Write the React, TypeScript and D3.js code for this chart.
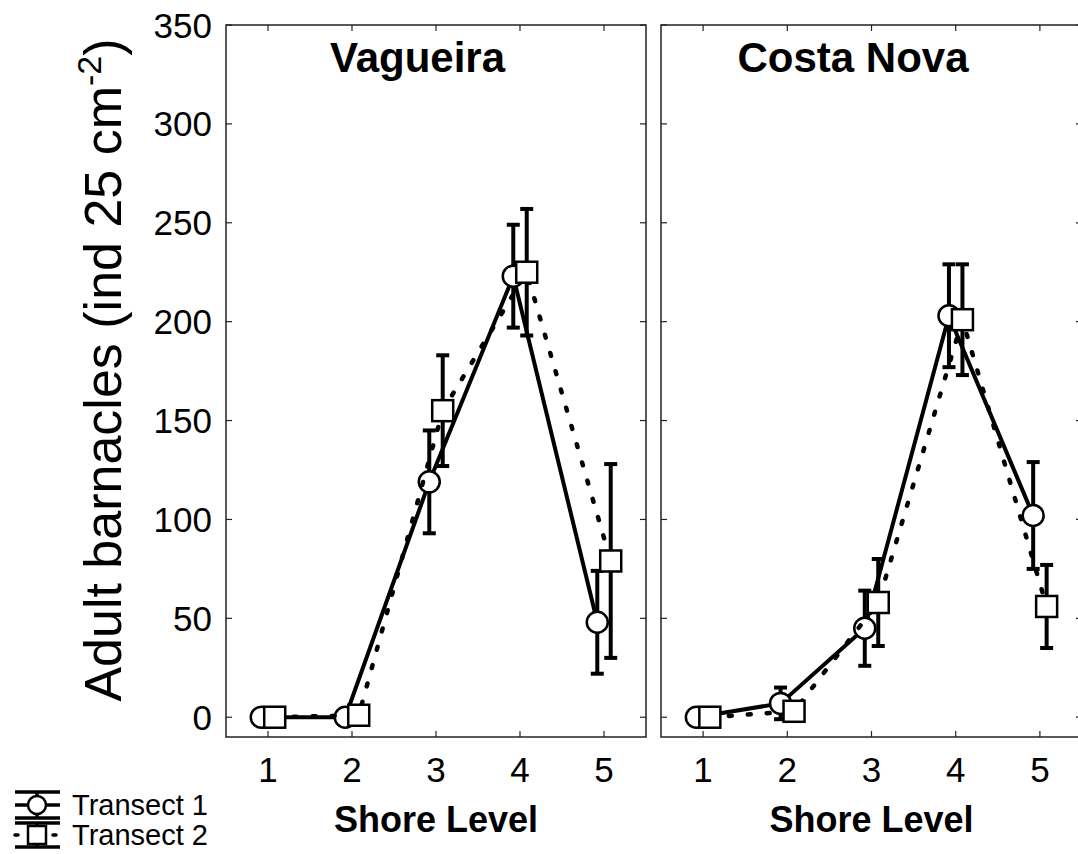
import React from 'react'
import * as d3 from 'd3'

const shoreLevels = [1, 2, 3, 4, 5]
const yTicks = [0, 50, 100, 150, 200, 250, 300, 350]

const vagueiraT1 = [0, 0, 119, 223, 48]
const vagueiraT1Err = [0, 0, 26, 26, 26]
const vagueiraT2 = [0, 1, 155, 225, 79]
const vagueiraT2Err = [0, 1, 28, 32, 49]

const costaNovaT1 = [0, 7, 45, 203, 102]
const costaNovaT1Err = [0, 8, 19, 26, 27]
const costaNovaT2 = [0, 3, 58, 201, 56]
const costaNovaT2Err = [0, 4, 22, 28, 21]

const panelTitles = ['Vagueira', 'Costa Nova']
const seriesNames = ['Transect 1', 'Transect 2']

const FONT = '"Liberation Sans", Arial, Helvetica, sans-serif'
const W = 1078
const H = 854
const top = 25
const bottom = 737

const yScale = d3.scaleLinear().domain([-10, 350]).range([bottom, top])

type Series = { values: number[]; err: number[]; shape: 'circle' | 'square'; dotted: boolean; offset: number }

const panels = [
  {
    title: panelTitles[0],
    left: 226,
    right: 646,
    series: [
      { values: vagueiraT1, err: vagueiraT1Err, shape: 'circle', dotted: false, offset: -0.08 },
      { values: vagueiraT2, err: vagueiraT2Err, shape: 'square', dotted: true, offset: 0.08 },
    ] as Series[],
    showY: true,
  },
  {
    title: panelTitles[1],
    left: 661,
    right: 1082,
    series: [
      { values: costaNovaT1, err: costaNovaT1Err, shape: 'circle', dotted: false, offset: -0.08 },
      { values: costaNovaT2, err: costaNovaT2Err, shape: 'square', dotted: true, offset: 0.08 },
    ] as Series[],
    showY: false,
  },
]

const Marker: React.FC<{ shape: string; x: number; y: number }> = ({ shape, x, y }) =>
  shape === 'circle' ? (
    <circle cx={x} cy={y} r={10.5} fill="white" stroke="black" strokeWidth={2.5} />
  ) : (
    <rect x={x - 10.5} y={y - 10.5} width={21} height={21} fill="white" stroke="black" strokeWidth={2.5} />
  )

const Panel: React.FC<{ p: (typeof panels)[0] }> = ({ p }) => {
  const x = d3.scaleLinear().domain([0.5, 5.5]).range([p.left, p.right])
  const tick = 6
  return (
    <g>
      <rect x={p.left} y={top} width={p.right - p.left} height={bottom - top} fill="none" stroke="#222" strokeWidth={1.5} />
      {shoreLevels.map((s) => (
        <g key={'xt' + s}>
          <line x1={x(s)} x2={x(s)} y1={bottom} y2={bottom - tick} stroke="#222" strokeWidth={1.2} />
          <line x1={x(s)} x2={x(s)} y1={top} y2={top + tick} stroke="#222" strokeWidth={1.2} />
          <text x={x(s)} y={782} textAnchor="middle" fontSize={35} fontFamily={FONT}>
            {s}
          </text>
        </g>
      ))}
      {yTicks.map((t) => (
        <g key={'yt' + t}>
          <line x1={p.left} x2={p.left + tick} y1={yScale(t)} y2={yScale(t)} stroke="#222" strokeWidth={1.2} />
          <line x1={p.right} x2={p.right - tick} y1={yScale(t)} y2={yScale(t)} stroke="#222" strokeWidth={1.2} />
          {p.showY && (
            <text x={212} y={yScale(t)} dy="0.36em" textAnchor="end" fontSize={35} fontFamily={FONT}>
              {t}
            </text>
          )}
        </g>
      ))}
      <text x={x(2.78)} y={72} textAnchor="middle" fontSize={42} fontWeight="bold" fontFamily={FONT}>
        {p.title}
      </text>
      <text x={(p.left + p.right) / 2} y={832} textAnchor="middle" fontSize={36} fontWeight="bold" fontFamily={FONT}>
        Shore Level
      </text>
      {p.series.map((s, i) => {
        const line = d3
          .line<number>()
          .x((_, j) => x(shoreLevels[j] + s.offset))
          .y((v) => yScale(v))
        return (
          <g key={i}>
            <path
              d={line(s.values) ?? ''}
              fill="none"
              stroke="black"
              strokeWidth={s.dotted ? 4.5 : 4}
              strokeDasharray={s.dotted ? '3 16' : undefined}
              strokeLinecap={s.dotted ? 'round' : 'butt'}
              strokeLinejoin="round"
            />
            {s.values.map((v, j) => {
              const cx = x(shoreLevels[j] + s.offset)
              const e = s.err[j]
              if (e <= 0) return null
              const y1 = yScale(v + e)
              const y2 = yScale(v - e)
              return (
                <g key={j} stroke="black" strokeWidth={4}>
                  <line x1={cx} x2={cx} y1={y1} y2={y2} />
                  <line x1={cx - 6.5} x2={cx + 6.5} y1={y1} y2={y1} />
                  <line x1={cx - 6.5} x2={cx + 6.5} y1={y2} y2={y2} />
                </g>
              )
            })}
            {s.values.map((v, j) => (
              <Marker key={'m' + j} shape={s.shape} x={x(shoreLevels[j] + s.offset)} y={yScale(v)} />
            ))}
          </g>
        )
      })}
    </g>
  )
}

const Legend: React.FC = () => (
  <g>
    <g stroke="black" strokeWidth={3.5}>
      <line x1={15} x2={60} y1={792} y2={792} />
      <line x1={37} x2={37} y1={792} y2={818} />
      <line x1={15} x2={60} y1={805} y2={805} />
      <line x1={15} x2={60} y1={818} y2={818} />
    </g>
    <circle cx={37} cy={805} r={9} fill="white" stroke="black" strokeWidth={2.5} />
    <g stroke="black" strokeWidth={3.5}>
      <line x1={15} x2={60} y1={823} y2={823} />
      <line x1={37} x2={37} y1={823} y2={847} />
      <line x1={15} x2={60} y1={835} y2={835} strokeDasharray="3 16" strokeLinecap="round" />
      <line x1={15} x2={60} y1={847} y2={847} />
    </g>
    <rect x={28} y={826} width={18} height={18} fill="white" stroke="black" strokeWidth={2.5} />
    <text x={72} y={815} fontSize={29} fontFamily={FONT}>
      {seriesNames[0]}
    </text>
    <text x={72} y={845} fontSize={29} fontFamily={FONT}>
      {seriesNames[1]}
    </text>
  </g>
)

export default function App() {
  return (
    <svg
      width={W}
      height={H}
      style={{ position: 'absolute', left: 0, top: 0, display: 'block', background: 'white' }}
    >
      <rect width={W} height={H} fill="white" />
      {panels.map((p) => (
        <Panel key={p.title} p={p} />
      ))}
      <text
        transform="translate(121,370) rotate(-90)"
        textAnchor="middle"
        fontSize={52}
        fontFamily={FONT}
      >
        Adult barnacles (ind 25 cm
        <tspan fontSize={34} dy={-20}>
          -2
        </tspan>
        <tspan dy={20}>)</tspan>
      </text>
      <Legend />
    </svg>
  )
}
